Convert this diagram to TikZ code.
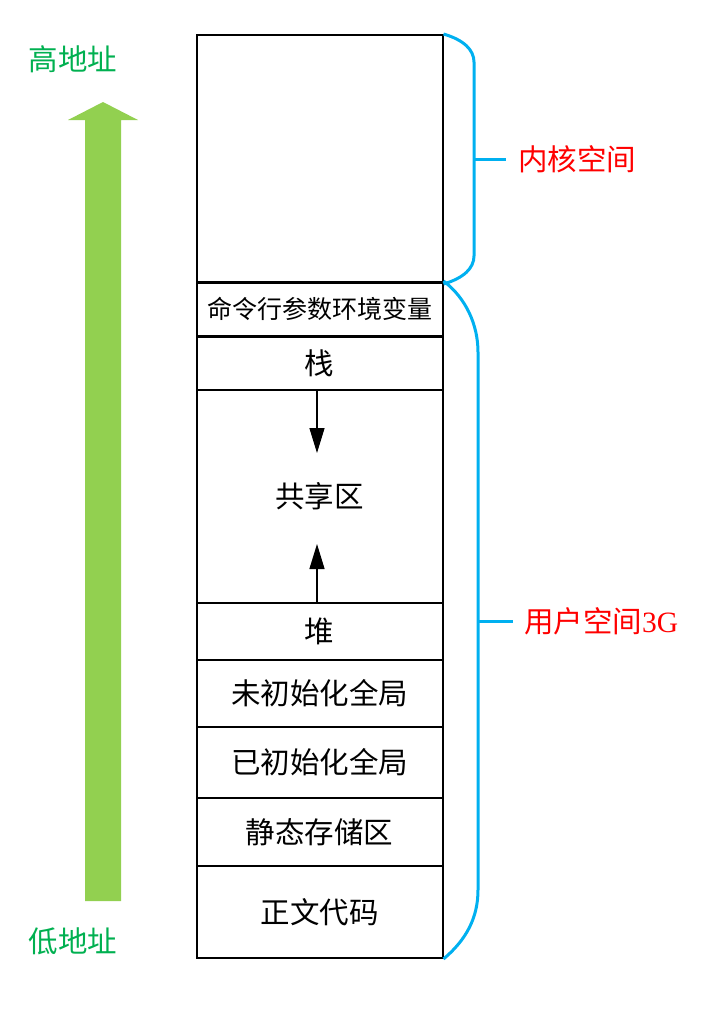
\documentclass[tikz,border=0pt]{standalone}
\usepackage{fontspec}
\setmainfont{Liberation Serif}
\newfontfamily\cjk{Noto Sans CJK SC}
\usetikzlibrary{arrows.meta}
\definecolor{kblue}{HTML}{00B0F0}
\definecolor{kred}{HTML}{FF0000}
\definecolor{kgreen}{HTML}{00B050}
\definecolor{agreen}{HTML}{92D050}
\begin{document}
\begin{tikzpicture}[x=1pt,y=-1pt,
  seg/.style={draw=black, line width=2pt, minimum width=246pt, inner sep=0pt,
    font=\cjk\fontsize{29.5}{31}\selectfont},
  bracel/.style={draw=kblue, line width=3pt},
  sidelabel/.style={text=kred, anchor=west, inner sep=0pt, font=\fontsize{29.5}{31}\selectfont},
  addrlabel/.style={text=kgreen, inner sep=0pt, font=\cjk\fontsize{29.5}{31}\selectfont},
  growarrow/.style={line width=1.3pt, -{Triangle[width=15pt,length=25pt]}}]
\useasboundingbox (0,0) rectangle (701,1013);

% green address arrow
\fill[agreen] (85,901) -- (85,120) -- (68,120) -- (103,102) -- (138,120) -- (121,120) -- (121,901) -- cycle;
\node[addrlabel] (high) at (73,59) {高地址};
\node[addrlabel] (low) at (73,941) {低地址};

% memory segments
\node[seg, minimum height=248pt] (kernel) at (319.5,159) {};
\node[seg, minimum height=54pt, font=\cjk\fontsize{25}{27}\selectfont] (cmd) at (319.5,309) {命令行参数环境变量};
\node[seg, minimum height=53pt] (stack) at (319.5,363.5) {栈};
\node[seg, minimum height=213pt] (shared) at (319.5,496.5) {共享区};
\node[seg, minimum height=57pt] (heap) at (319.5,631.5) {堆};
\node[seg, minimum height=67pt] (bss) at (319.5,693.5) {未初始化全局};
\node[seg, minimum height=71pt] (data) at (319.5,762.5) {已初始化全局};
\node[seg, minimum height=68pt] (static) at (319.5,832) {静态存储区};
\node[seg, minimum height=92pt] (text) at (319.5,912) {正文代码};

% growth arrows
\coordinate (dtip) at (317,453);
\coordinate (utip) at (317,544);
\draw[growarrow] (stack.south -| dtip) -- (dtip);
\draw[growarrow] (heap.north -| utip) -- (utip);

% kernel brace
\draw[bracel] (kernel.north east) .. controls (464,40) and (474,50) .. (474,62)
  -- (474,256) .. controls (474,268) and (464,278) .. (kernel.south east);
\coordinate (kmid) at (474,159);
\draw[bracel] (kmid) -- ++(32,0);
\node[sidelabel] (klabel) at (518,159) {\cjk 内核空间};

% user brace
\draw[bracel] (cmd.north east) .. controls (466,298) and (478,325) .. (478,352)
  -- (478,890) .. controls (478,918) and (466,940) .. (text.south east);
\coordinate (umid) at (478,621);
\draw[bracel] (umid) -- ++(35,0);
\node[sidelabel] (ulabel) at (524,621) {{\cjk 用户空间}3G};
\end{tikzpicture}
\end{document}
